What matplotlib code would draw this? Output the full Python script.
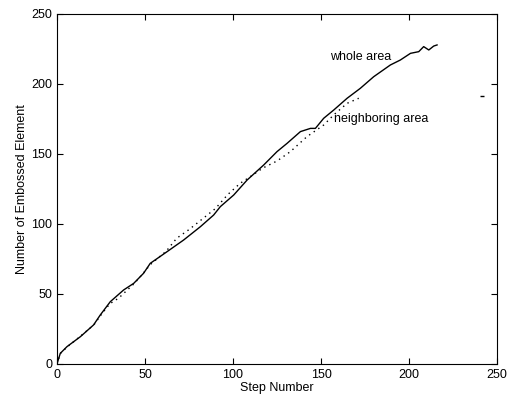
import matplotlib.pyplot as plt

# whole area (solid line)
whole_x = [0, 1.9, 5.7, 13.3, 20.8, 24.6, 30.3, 37.9, 43.6, 49.2, 53, 62.5, 72,
           81.4, 89, 92.8, 100.4, 108, 117.4, 125, 130.7, 138.3, 144, 146.8,
           151.5, 157.2, 164.8, 172.3, 179.9, 189.4, 195, 200.8, 205.5, 208.3,
           211.2, 214, 215.9]
whole_y = [0, 7.6, 12.4, 19.5, 27.9, 35, 44.5, 52.9, 57.6, 64.8, 71.9, 80.2, 88.6,
           98, 106.4, 112.4, 120.7, 131.4, 142.1, 151.7, 157.6, 166, 168.3, 168.3,
           175.5, 181.4, 189.8, 196.9, 205.2, 213.6, 217.1, 221.9, 223.1, 226.7,
           224.3, 227.1, 227.9]

# neighboring area (dotted line)
neigh_x = [0, 2, 6, 13, 21, 25, 30, 35, 44, 49, 53, 62, 68, 75, 82, 90, 97, 104,
           110, 117, 125, 132.6, 142, 151.5, 157.2, 164.8, 171.4]
neigh_y = [0, 7.6, 12.4, 19.5, 28, 35, 43, 47, 57.6, 64.8, 71, 80.5, 89.8, 96,
           103, 111, 121, 129, 134, 140, 145, 151.7, 162.4, 170.7, 177.9, 186.2,
           189.8]

stray_x = [241.5]
stray_y = [191.7]

plt.rcParams['font.family'] = ['Liberation Sans', 'DejaVu Sans']
fig, ax = plt.subplots(figsize=(5.13, 4.0), dpi=100)
fig.subplots_adjust(left=0.111, right=0.969, top=0.965, bottom=0.09)

ax.plot(whole_x, whole_y, color='black', linewidth=1.0)
ax.plot(neigh_x, neigh_y, color='black', linewidth=1.0, linestyle=(0, (1, 3)))
ax.plot(stray_x, stray_y, color='black', marker='_', markersize=3, linestyle='none')

ax.text(155, 219, 'whole area', fontsize=9, va='center')
ax.text(157.5, 175, 'neighboring area', fontsize=9, va='center')

ax.set_xlim(0, 250)
ax.set_ylim(0, 250)
ax.set_xticks([0, 50, 100, 150, 200, 250])
ax.set_yticks([0, 50, 100, 150, 200, 250])
ax.tick_params(direction='in', top=True, right=True, labelsize=9, length=4)
ax.set_xlabel('Step Number', fontsize=9, labelpad=1)
ax.set_ylabel('Number of Embossed Element', fontsize=9, labelpad=2)

plt.savefig('out.png')
